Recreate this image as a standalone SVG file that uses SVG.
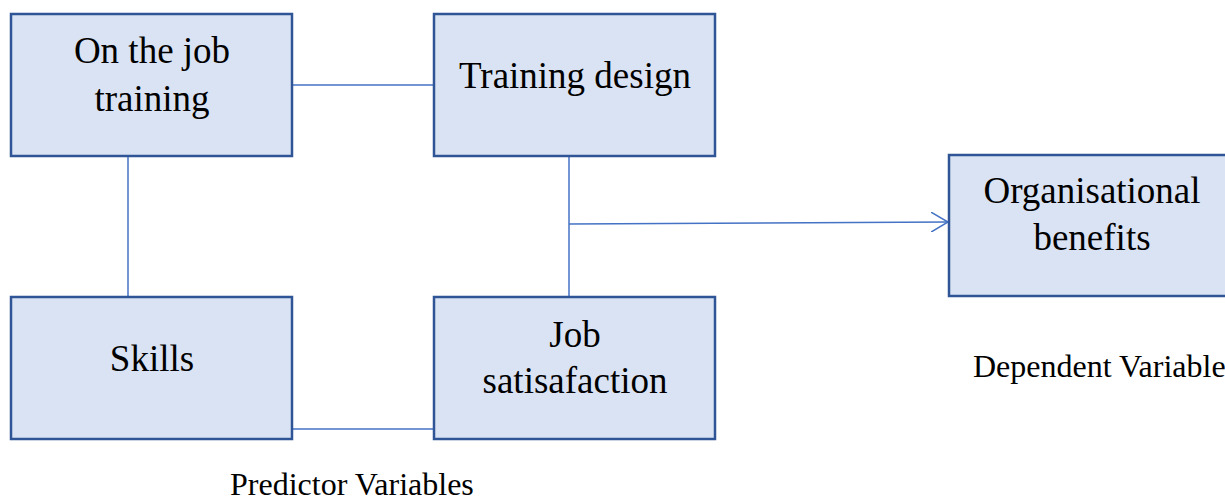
<svg xmlns="http://www.w3.org/2000/svg" width="1225" height="501" viewBox="0 0 1225 501">
<style>
.box{fill:#DAE3F3;stroke:#2F5597;stroke-width:2.5}
.t{font-family:'Liberation Serif','Times New Roman',serif;font-size:37px;fill:#000;text-anchor:middle}
.l{font-family:'Liberation Serif','Times New Roman',serif;font-size:32px;fill:#000}
.c{stroke:#4472C4;stroke-width:1.5;fill:none}
</style>
<defs>
<marker id="ah" markerWidth="20" markerHeight="20" refX="17" refY="10" orient="auto" markerUnits="userSpaceOnUse">
<path d="M0,0 L17,10 L0,20" fill="none" stroke="#4472C4" stroke-width="1.5"/>
</marker>
</defs>
<rect width="1225" height="501" fill="#fff"/>
<g id="connectors">
<line class="c" x1="292" y1="85" x2="434" y2="85"/>
<line class="c" x1="128" y1="156" x2="128" y2="297"/>
<line class="c" x1="569" y1="156" x2="569" y2="297"/>
<line class="c" x1="292" y1="429" x2="434" y2="429"/>
<line class="c" x1="569" y1="224" x2="948" y2="222" marker-end="url(#ah)"/>
</g>
<g id="n1"><rect class="box" x="11" y="14" width="281" height="142"/><text class="t" x="152" y="63">On the job</text><text class="t" x="152" y="111">training</text></g>
<g id="n2"><rect class="box" x="434" y="14" width="281" height="142"/><text class="t" x="575" y="88">Training design</text></g>
<g id="n3"><rect class="box" x="11" y="297" width="281" height="142"/><text class="t" x="152" y="371">Skills</text></g>
<g id="n4"><rect class="box" x="434" y="297" width="281" height="142"/><text class="t" x="575" y="347">Job</text><text class="t" x="575" y="393">satisafaction</text></g>
<g id="n5"><rect class="box" x="949" y="155" width="281" height="141"/><text class="t" x="1092" y="203">Organisational</text><text class="t" x="1092" y="250">benefits</text></g>
<text class="l" x="973" y="377">Dependent Variable</text>
<text class="l" x="230" y="495">Predictor Variables</text>
</svg>
